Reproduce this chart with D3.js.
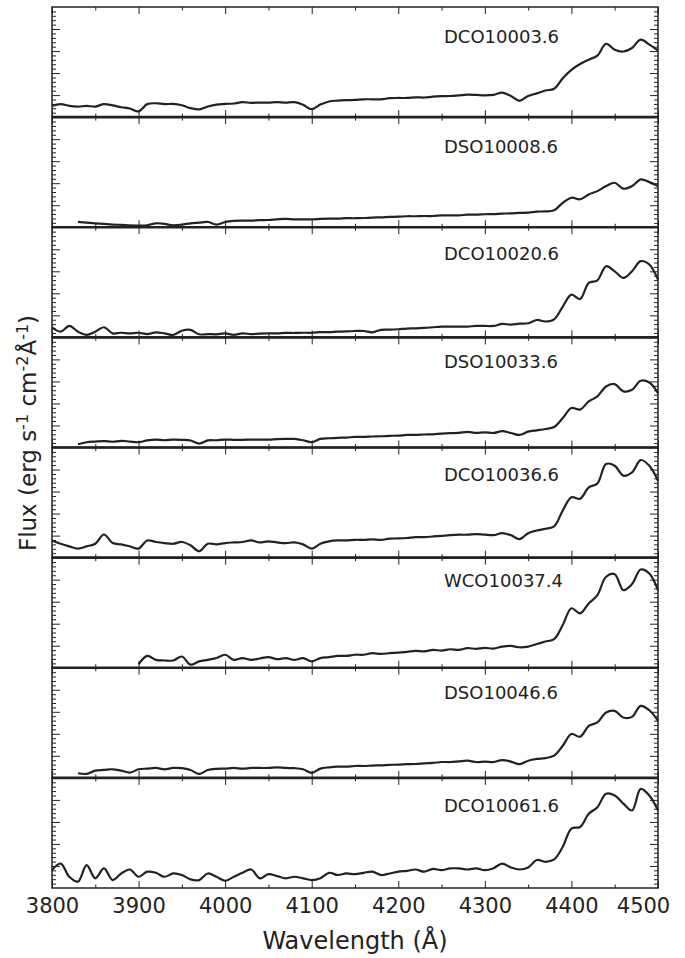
<!DOCTYPE html>
<html>
<head>
<meta charset="utf-8">
<script src="https://cdn.jsdelivr.net/npm/d3@7"></script>
<style>
  body { margin: 0; background: #fff; }
  text { font-family: "DejaVu Sans", sans-serif; fill: #222; }
</style>
</head>
<body>
<div id="spectra"></div>
<script>
// wavelength grid (Angstrom)
const wavelength = [
  3800, 3810, 3820, 3830, 3840, 3850, 3860, 3870, 3880, 3890,
  3900, 3910, 3920, 3930, 3940, 3950, 3960, 3970, 3980, 3990,
  4000, 4010, 4020, 4030, 4040, 4050, 4060, 4070, 4080, 4090,
  4100, 4110, 4120, 4130, 4140, 4150, 4160, 4170, 4180, 4190,
  4200, 4210, 4220, 4230, 4240, 4250, 4260, 4270, 4280, 4290,
  4300, 4310, 4320, 4330, 4340, 4350, 4360, 4370, 4380, 4390,
  4400, 4410, 4420, 4430, 4440, 4450, 4460, 4470, 4480, 4490,
  4500
];

const names = ["DCO10003.6", "DSO10008.6", "DCO10020.6", "DSO10033.6",
               "DCO10036.6", "WCO10037.4", "DSO10046.6", "DCO10061.6"];

// flux, arbitrary units (null = no data)
const dco10003 = [
  0.51,0.59,0.51,0.48,0.51,0.48,0.59,0.53,0.45,0.39,
  0.26,0.59,0.63,0.59,0.60,0.54,0.41,0.35,0.48,0.57,
  0.60,0.62,0.68,0.65,0.66,0.66,0.68,0.66,0.68,0.56,
  0.36,0.57,0.71,0.75,0.77,0.78,0.81,0.81,0.81,0.86,
  0.87,0.87,0.90,0.89,0.93,0.95,0.96,0.99,1.02,1.01,
  0.99,1.01,1.11,0.96,0.74,0.96,1.08,1.21,1.29,1.77,
  2.15,2.41,2.61,2.79,3.33,3.06,2.98,3.14,3.52,3.29,
  3.03];
const dso10008 = [
  null,null,null,0.24,0.21,0.18,0.15,0.12,0.11,0.09,
  0.08,0.09,0.18,0.15,0.09,0.12,0.18,0.21,0.24,0.12,
  0.24,0.29,0.30,0.30,0.32,0.33,0.36,0.38,0.36,0.36,
  0.36,0.38,0.39,0.39,0.41,0.41,0.42,0.44,0.45,0.47,
  0.48,0.50,0.50,0.51,0.51,0.54,0.54,0.54,0.57,0.57,
  0.59,0.60,0.62,0.63,0.65,0.66,0.71,0.72,0.77,1.11,
  1.34,1.27,1.49,1.64,1.87,2.02,1.75,1.87,2.17,2.05,
  1.87];
const dco10020 = [
  0.46,0.26,0.52,0.26,0.11,0.26,0.46,0.18,0.21,0.18,
  0.21,0.15,0.23,0.18,0.11,0.30,0.34,0.14,0.15,0.14,
  0.18,0.11,0.18,0.15,0.17,0.18,0.18,0.20,0.20,0.21,
  0.21,0.24,0.24,0.26,0.27,0.29,0.29,0.23,0.34,0.35,
  0.37,0.40,0.41,0.43,0.46,0.49,0.49,0.49,0.49,0.52,
  0.52,0.52,0.61,0.58,0.62,0.64,0.79,0.72,0.82,1.40,
  1.94,1.74,2.47,2.59,3.23,3.00,2.70,3.00,3.46,3.31,
  2.62];
const dso10033 = [
  null,null,null,0.15,0.24,0.27,0.29,0.26,0.30,0.27,
  0.24,0.32,0.36,0.33,0.36,0.35,0.32,0.18,0.32,0.33,
  0.36,0.35,0.35,0.36,0.36,0.36,0.38,0.39,0.39,0.33,
  0.24,0.39,0.42,0.44,0.45,0.48,0.48,0.50,0.51,0.53,
  0.54,0.57,0.57,0.59,0.60,0.63,0.65,0.66,0.71,0.66,
  0.69,0.66,0.74,0.66,0.57,0.72,0.78,0.84,0.93,1.34,
  1.79,1.72,2.09,2.32,2.77,2.88,2.55,2.62,3.03,2.95,
  2.47];
const dco10036 = [
  0.78,0.63,0.51,0.41,0.51,0.63,1.05,0.66,0.60,0.51,
  0.41,0.78,0.71,0.66,0.63,0.71,0.56,0.29,0.63,0.60,
  0.66,0.69,0.71,0.78,0.69,0.74,0.69,0.66,0.69,0.60,
  0.41,0.63,0.74,0.78,0.78,0.81,0.81,0.83,0.81,0.86,
  0.87,0.89,0.93,0.93,0.96,0.99,1.02,1.04,1.04,1.07,
  1.04,1.02,1.11,1.02,0.84,1.11,1.23,1.31,1.42,2.14,
  2.74,2.67,3.19,3.37,4.25,4.17,3.72,3.87,4.43,4.17,
  3.49];
const wco10037 = [
  null,null,null,null,null,null,null,null,null,null,
  0.15,0.54,0.36,0.33,0.33,0.51,0.14,0.29,0.36,0.44,
  0.59,0.36,0.44,0.36,0.42,0.48,0.39,0.44,0.36,0.44,
  0.29,0.44,0.48,0.54,0.54,0.59,0.59,0.66,0.63,0.66,
  0.69,0.72,0.77,0.74,0.81,0.78,0.84,0.81,0.89,0.86,
  0.90,0.87,0.96,0.99,0.93,0.96,1.08,1.19,1.30,1.94,
  2.70,2.47,2.92,3.30,4.13,4.25,3.52,3.80,4.46,4.28,
  3.52];
const dso10046 = [
  null,null,null,0.21,0.18,0.33,0.36,0.39,0.33,0.24,
  0.39,0.42,0.45,0.39,0.45,0.44,0.36,0.18,0.36,0.41,
  0.42,0.45,0.42,0.45,0.45,0.45,0.48,0.45,0.44,0.39,
  0.23,0.42,0.48,0.51,0.51,0.54,0.54,0.56,0.57,0.59,
  0.60,0.62,0.63,0.66,0.68,0.72,0.72,0.75,0.78,0.72,
  0.74,0.72,0.81,0.74,0.62,0.78,0.86,0.90,1.01,1.46,
  1.99,1.87,2.36,2.52,2.97,3.04,2.74,2.77,3.27,3.07,
  2.59];
const dco10061 = [
  0.81,1.11,0.51,0.29,1.04,0.44,0.89,0.36,0.66,0.84,
  0.51,0.74,0.69,0.51,0.66,0.59,0.39,0.36,0.66,0.51,
  0.33,0.51,0.69,0.84,0.44,0.63,0.54,0.44,0.51,0.44,
  0.36,0.44,0.69,0.59,0.66,0.63,0.69,0.74,0.59,0.66,
  0.74,0.78,0.84,0.74,0.87,0.81,0.89,0.89,0.84,0.89,
  0.81,0.90,1.11,0.93,0.84,0.93,1.27,1.19,1.30,1.87,
  2.70,2.77,3.37,3.67,4.28,4.20,3.83,3.52,4.50,4.20,
  3.52];

const fluxes = [dco10003, dso10008, dco10020, dso10033,
                dco10036, wco10037, dso10046, dco10061];

const xTickLabels = ["3800", "3900", "4000", "4100", "4200", "4300", "4400", "4500"];

// layout
const W = 685, H = 958;
const margin = {top: 7, right: 27, bottom: 70, left: 52};
const width = W - margin.left - margin.right;
const panelH = (H - margin.top - margin.bottom) / names.length;
// baseline offset of each panel label below its panel top
const labelDy = [36, 36, 33, 31, 33, 29, 31, 34];

const svg = d3.select("#spectra")
    .append("svg")
    .attr("width", W)
    .attr("height", H)
    .append("g")
    .attr("transform", "translate(" + margin.left + "," + margin.top + ")");

const x = d3.scaleLinear().domain([3800, 4500]).range([0, width]);
const xMajor = d3.range(3800, 4501, 100);
const xMinor = d3.range(3850, 4500, 100);
const yMajor = [1, 2, 3, 4];
const yMinor = d3.range(0.2, 5, 0.2).filter(v => Math.abs(v - Math.round(v)) > 0.01);

const ink = "#222";

names.forEach(function(name, i) {
  const top = i * panelH;
  const g = svg.append("g").attr("transform", "translate(0," + top + ")");

  const y = d3.scaleLinear().domain([0, 5]).range([panelH, 0]);

  // ticks, all pointing inward
  const tickAxes = [
    [d3.axisBottom(x).tickValues(xMajor).tickSize(-7), panelH],
    [d3.axisBottom(x).tickValues(xMinor).tickSize(-3.5), panelH],
    [d3.axisTop(x).tickValues(xMajor).tickSize(-7), 0],
    [d3.axisTop(x).tickValues(xMinor).tickSize(-3.5), 0]
  ];
  tickAxes.forEach(function(a) {
    g.append("g")
        .attr("transform", "translate(0," + a[1] + ")")
        .call(a[0].tickFormat(""))
        .call(s => s.select(".domain").remove())
        .selectAll("line").attr("stroke", ink).attr("stroke-width", 1);
  });
  const yAxes = [
    [d3.axisLeft(y).tickValues(yMajor).tickSize(-8), 0],
    [d3.axisLeft(y).tickValues(yMinor).tickSize(-4), 0],
    [d3.axisRight(y).tickValues(yMajor).tickSize(-8), width],
    [d3.axisRight(y).tickValues(yMinor).tickSize(-4), width]
  ];
  yAxes.forEach(function(a) {
    g.append("g")
        .attr("transform", "translate(" + a[1] + ",0)")
        .call(a[0].tickFormat(""))
        .call(s => s.select(".domain").remove())
        .selectAll("line").attr("stroke", ink).attr("stroke-width", 1);
  });

  // spectrum
  const line = d3.line()
      .defined(d => d[1] !== null)
      .curve(d3.curveCatmullRom.alpha(0.5))
      .x(d => x(d[0]))
      .y(d => y(d[1]));
  g.append("path")
      .datum(wavelength.map((w, k) => [w, fluxes[i][k]]))
      .attr("fill", "none")
      .attr("stroke", ink)
      .attr("stroke-width", 2.2)
      .attr("stroke-linejoin", "round")
      .attr("d", line);

  // frame
  g.append("rect")
      .attr("width", width)
      .attr("height", panelH)
      .attr("fill", "none")
      .attr("stroke", ink)
      .attr("stroke-width", 1.5);
  if (i > 0) {
    g.append("line")
        .attr("x1", 0).attr("x2", width)
        .attr("stroke", ink)
        .attr("stroke-width", 2.6);
  }

  g.append("text")
      .attr("x", 392)
      .attr("y", labelDy[i])
      .attr("font-size", 18)
      .text(name);
});

// bottom axis labels
const plotH = panelH * names.length;
const xAxis = svg.append("g")
    .attr("transform", "translate(0," + plotH + ")")
    .call(d3.axisBottom(x).tickValues(xMajor).tickSize(0).tickPadding(10)
        .tickFormat((d, k) => xTickLabels[k]));
xAxis.select(".domain").remove();
xAxis.selectAll("text")
    .attr("font-size", 21)
    .attr("font-family", "DejaVu Sans")
    .attr("fill", ink)
    .attr("dx", (d, k) => k === xTickLabels.length - 1 ? -15 : 0);

svg.append("text")
    .attr("text-anchor", "middle")
    .attr("x", width / 2)
    .attr("y", H - margin.top - 9)
    .attr("font-size", 24)
    .text("Wavelength (Å)");

// Y axis label
const yl = svg.append("text")
    .attr("text-anchor", "middle")
    .attr("transform", "rotate(-90)")
    .attr("x", -(433 - margin.top))
    .attr("y", 36 - margin.left)
    .attr("font-size", 23);
yl.append("tspan").text("Flux (erg s");
yl.append("tspan").attr("dy", -8).attr("font-size", 16).text("-1");
yl.append("tspan").attr("dy", 8).text(" cm");
yl.append("tspan").attr("dy", -8).attr("font-size", 16).text("-2");
yl.append("tspan").attr("dy", 8).text("Å");
yl.append("tspan").attr("dy", -8).attr("font-size", 16).text("-1");
yl.append("tspan").attr("dy", 8).text(")");
</script>
</body>
</html>
